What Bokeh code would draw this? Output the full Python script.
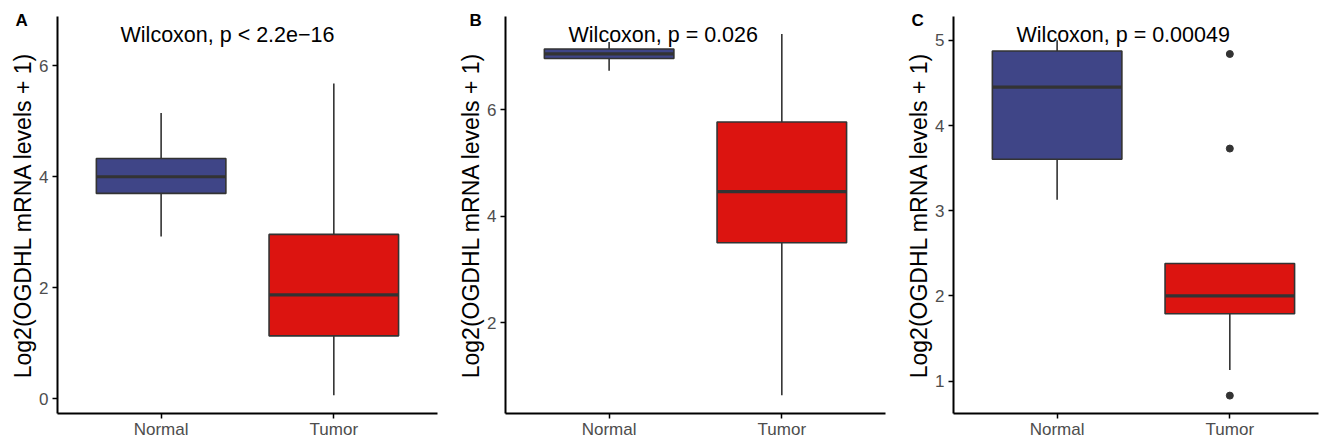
from bokeh.plotting import figure
from bokeh.layouts import row
from bokeh.models import Range1d, FixedTicker, Title
from bokeh.embed import file_html
from bokeh.resources import INLINE
from bokeh.core.properties import value

categories = ["Normal", "Tumor"]
panel_letters = ["A", "B", "C"]
p_labels = ["Wilcoxon, p < 2.2e\u221216", "Wilcoxon, p = 0.026", "Wilcoxon, p = 0.00049"]
y_label = "Log2(OGDHL mRNA levels + 1)"

# box statistics per panel: [Normal, Tumor]
lower_whisker = [[2.92, 0.06], [6.73, 0.64], [3.13, 1.13]]
q1 = [[3.70, 1.13], [6.96, 3.50], [3.605, 1.79]]
median = [[4.00, 1.87], [7.05, 4.46], [4.45, 2.00]]
q3 = [[4.33, 2.96], [7.14, 5.77], [4.875, 2.38]]
upper_whisker = [[5.15, 5.68], [7.27, 7.42], [5.00, 2.38]]
outliers = [[[], []], [[], []], [[], [4.84, 3.73, 0.83]]]

y_ticks = [[0, 2, 4, 6], [2, 4, 6], [1, 2, 3, 4, 5]]
y_ranges = [(-0.27, 6.89), (0.295, 7.75), (0.62, 5.28)]
label_y = [6.55, 7.40, 5.06]
label_x = 0.765

fills = ["#3F4587", "#DC1410"]
FONT = "Liberation Sans"

# layout: figure widths, left borders, frame widths
fig_w = [447, 446, 429]
left_b = [57, 58, 60]
frame_w = [380, 380, 365]
letter_offset = [-42, -36, -42]
PX_PER_X = 172.7

figs = []
for i in range(3):
    x_end = 0.4 + frame_w[i] / PX_PER_X
    y0, y1 = y_ranges[i]
    p = figure(width=fig_w[i], height=441, output_backend="svg", toolbar_location=None,
               x_range=Range1d(0.4, x_end), y_range=Range1d(y0, y1),
               min_border_left=left_b[i], min_border_right=fig_w[i] - left_b[i] - frame_w[i],
               min_border_top=16, min_border_bottom=25)
    p.outline_line_color = None
    p.xgrid.visible = False
    p.ygrid.visible = False
    p.background_fill_color = "white"
    p.border_fill_color = "white"

    xs = [1, 2]
    # whiskers
    p.segment(x0=xs, y0=q3[i], x1=xs, y1=upper_whisker[i], line_color="#333333", line_width=1.6)
    p.segment(x0=xs, y0=lower_whisker[i], x1=xs, y1=q1[i], line_color="#333333", line_width=1.6)
    # boxes
    p.vbar(x=xs, width=0.75, bottom=q1[i], top=q3[i], fill_color=fills,
           line_color="#333333", line_width=1.6)
    # medians
    p.segment(x0=[x - 0.375 for x in xs], y0=median[i], x1=[x + 0.375 for x in xs], y1=median[i],
              line_color="#333333", line_width=3.2)
    # outliers
    for j, x in enumerate(xs):
        if outliers[i][j]:
            p.scatter(x=[x] * len(outliers[i][j]), y=outliers[i][j], size=7,
                      fill_color="#333333", line_color="#333333")

    p.text(x=[label_x], y=[label_y[i]], text=[p_labels[i]], text_font=value(FONT),
           text_font_size="21.5px", text_align="left", text_baseline="middle", text_color="black")

    p.xaxis.ticker = FixedTicker(ticks=[1, 2])
    p.xaxis.major_label_overrides = {1: categories[0], 2: categories[1]}
    p.yaxis.ticker = FixedTicker(ticks=y_ticks[i])
    for ax in (p.xaxis, p.yaxis):
        ax.axis_line_color = "black"
        ax.axis_line_width = 2
        ax.major_tick_line_color = "black"
        ax.major_tick_line_width = 1.5
        ax.major_tick_out = 5
        ax.major_tick_in = 0
        ax.minor_tick_line_color = None
        ax.major_label_text_font = FONT
        ax.major_label_text_font_size = "17px"
        ax.major_label_text_color = "#4D4D4D"
    p.xaxis.major_label_standoff = 1
    p.yaxis.major_label_standoff = 4
    p.yaxis.axis_label = y_label
    p.yaxis.axis_label_text_font = FONT
    p.yaxis.axis_label_text_font_size = "23px"
    p.yaxis.axis_label_text_font_style = "normal"
    p.yaxis.axis_label_text_color = "black"
    p.yaxis.axis_label_standoff = 0

    # panel letter as a title at upper-left, shifted left of the frame
    t = Title(text=panel_letters[i], align="left", offset=letter_offset[i], standoff=-26,
              text_font=FONT, text_font_size="17px", text_font_style="bold",
              text_color="black", text_line_height=0.8)
    p.add_layout(t, "above")
    figs.append(p)

layout = row(*figs, spacing=0)
open("out.html", "w").write(file_html(layout, INLINE))
